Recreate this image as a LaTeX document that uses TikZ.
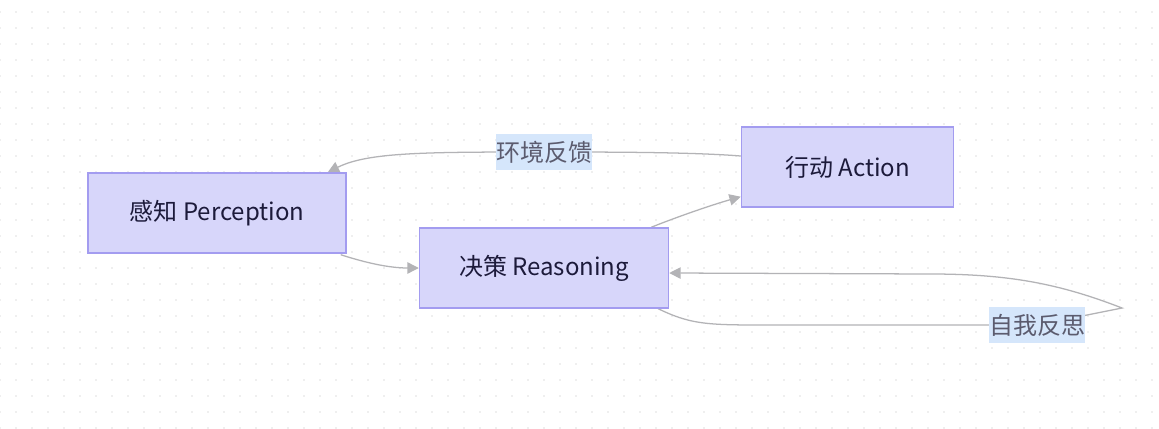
\documentclass[tikz,border=0pt]{standalone}
\usepackage{fontspec}
\setmainfont{Noto Sans CJK SC}
\usetikzlibrary{arrows.meta,calc}
\definecolor{nodefill}{HTML}{D7D6FA}
\definecolor{nodestroke}{HTML}{A39CF0}
\definecolor{nodetext}{HTML}{1C1A3A}
\definecolor{edgegray}{HTML}{B3B3B6}
\definecolor{labbg}{HTML}{D5E6FB}
\definecolor{labtext}{HTML}{5B5B6E}
\definecolor{dotgray}{HTML}{EFEFEF}
\pgfdeclarelayer{bg}
\pgfdeclarelayer{edges}
\pgfsetlayers{bg,edges,main}
\tikzset{
  box/.style={draw=nodestroke,fill=nodefill,line width=1.1pt,text=nodetext,
    font=\fontsize{18pt}{22pt}\selectfont,inner sep=0pt,minimum height=60pt},
  edge/.style={draw=edgegray,line width=0.95pt},
  arrowed/.style={-{Triangle[length=8.5pt,width=8.5pt]}},
  elabel/.style={fill=labbg,text=labtext,font=\fontsize{18pt}{22pt}\selectfont,
    inner sep=0pt,minimum width=71pt,minimum height=27pt},
}
\begin{document}
\begin{tikzpicture}[x=0.75pt,y=-0.75pt]
\useasboundingbox (0,0) rectangle (1159,428);
\begin{pgfonlayer}{bg}
  \fill[white] (0,0) rectangle (1159,428);
  \foreach \i in {0,...,72}{
    \foreach \j in {0,...,26}{
      \fill[dotgray] (16*\i-1,12+16*\j-1) rectangle +(2,2);
    }
  }
\end{pgfonlayer}

% nodes
\node[box,minimum width=193.5pt] (perc) at (217,213) {感知 Perception};
\node[box,minimum width=186.75pt] (reas) at (544,268) {决策 Reasoning};
\node[box,minimum width=159pt] (act) at (847.5,167) {行动 Action};

% label positions and loop turn
\coordinate (l1) at (544,152);
\coordinate (l2) at (1037,325);
\coordinate (turn) at (1122,308);

\begin{pgfonlayer}{edges}
  % Perception -> Reasoning
  \draw[edge,arrowed] ($(perc.south east)+(-6,1)$) .. controls +(25,8) and +(-30,0) .. (reas.west);
  % Reasoning -> Action
  \draw[edge,arrowed] ($(reas.north east)+(-18,0)$) .. controls +(30,-12) and +(-25,7) .. ($(act.south west)+(0,-11)$);
  % Action -> Perception (feedback)
  \draw[edge,arrowed] ($(act.west)+(0,-11)$) .. controls +(-50,-4) and +(60,0) .. (l1)
     .. controls +(-120,0) and +(40,-20) .. ($(perc.north east)+(-19,0)$);
  % Reasoning self loop
  \draw[edge,arrowed] ($(reas.south east)+(-11,0)$) .. controls +(35,17) and +(-70,0) .. (780,325)
     -- (l2) -- (turn) .. controls (1060,284) and (1010,274) .. (930,274)
     -- ($(reas.east)+(0,5)$);
\end{pgfonlayer}

\node[elabel] (lab1) at (l1) {环境反馈};
\node[elabel] (lab2) at (l2) {自我反思};
\end{tikzpicture}
\end{document}
